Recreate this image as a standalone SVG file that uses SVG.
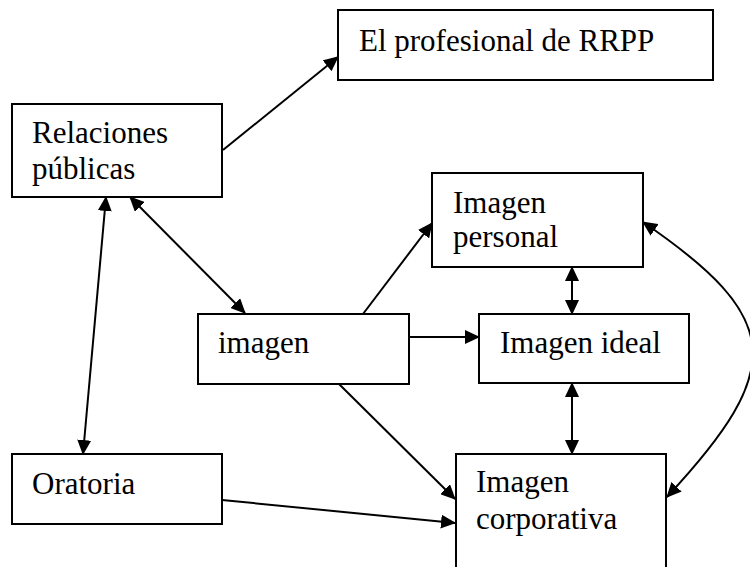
<svg xmlns="http://www.w3.org/2000/svg" width="750" height="567" viewBox="0 0 750 567">
<style>
.box{fill:#fff;stroke:#000;stroke-width:2}
.t{font-family:"Liberation Serif","Times New Roman",serif;font-size:31px;fill:#000}
.c{fill:none;stroke:#000;stroke-width:2}
</style>
<defs>
<marker id="ah" markerUnits="userSpaceOnUse" markerWidth="15" markerHeight="14" refX="14" refY="7" orient="auto-start-reverse" viewBox="0 0 15 14">
<path d="M0,0 L15,7 L0,14 z" fill="#000"/>
</marker>
</defs>
<rect width="750" height="567" fill="#fff"/>
<g id="connectors">
<line class="c" x1="223" y1="150" x2="338" y2="57" marker-end="url(#ah)"/>
<line class="c" x1="106" y1="197" x2="83" y2="454" marker-start="url(#ah)" marker-end="url(#ah)"/>
<line class="c" x1="130" y1="197" x2="245" y2="313" marker-start="url(#ah)" marker-end="url(#ah)"/>
<line class="c" x1="363" y1="314" x2="432" y2="223" marker-end="url(#ah)"/>
<line class="c" x1="409" y1="337" x2="479" y2="337" marker-end="url(#ah)"/>
<line class="c" x1="572" y1="267" x2="572" y2="314" marker-start="url(#ah)" marker-end="url(#ah)"/>
<line class="c" x1="572" y1="383" x2="572" y2="454" marker-start="url(#ah)" marker-end="url(#ah)"/>
<line class="c" x1="339" y1="384" x2="455" y2="499" marker-end="url(#ah)"/>
<line class="c" x1="222" y1="500" x2="455" y2="523" marker-end="url(#ah)"/>
<path class="c" d="M643,222 C783,318 787,368 667,497" marker-start="url(#ah)" marker-end="url(#ah)"/>
</g>
<g id="n-profesional">
<rect class="box" x="338" y="10" width="375" height="70"/>
<text class="t" x="359" y="51">El profesional de RRPP</text>
</g>
<g id="n-relaciones">
<rect class="box" x="12" y="104" width="210" height="93"/>
<text class="t" x="32" y="143">Relaciones</text>
<text class="t" x="32" y="179">públicas</text>
</g>
<g id="n-personal">
<rect class="box" x="432" y="173" width="211" height="94"/>
<text class="t" x="453" y="213">Imagen</text>
<text class="t" x="453" y="247">personal</text>
</g>
<g id="n-imagen">
<rect class="box" x="198" y="314" width="211" height="70"/>
<text class="t" x="218" y="353">imagen</text>
</g>
<g id="n-ideal">
<rect class="box" x="479" y="314" width="210" height="69"/>
<text class="t" x="500" y="353">Imagen ideal</text>
</g>
<g id="n-oratoria">
<rect class="box" x="12" y="454" width="210" height="70"/>
<text class="t" x="32" y="494">Oratoria</text>
</g>
<g id="n-corporativa">
<rect class="box" x="456" y="454" width="210" height="130"/>
<text class="t" x="476" y="492">Imagen</text>
<text class="t" x="476" y="529">corporativa</text>
</g>
</svg>
